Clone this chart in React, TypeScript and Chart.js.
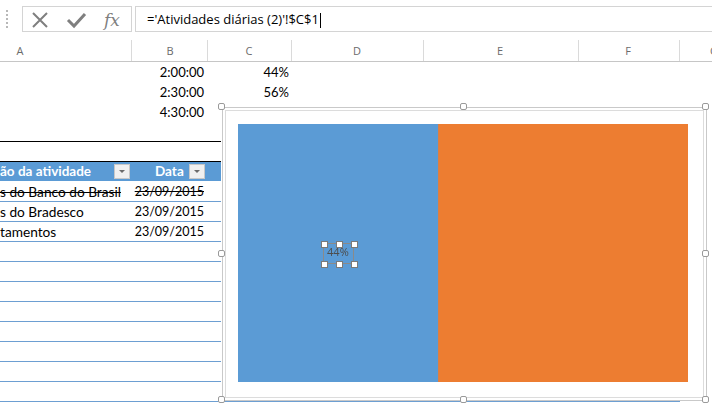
import React, { useEffect, useRef } from "react";
import { Chart, registerables } from "chart.js";

Chart.register(...registerables);

const categories: string[] = ["Atividades"];
const seriesNames: string[] = ["2:00:00", "2:30:00"];
const seriesValues: number[] = [44.4, 55.6];
const seriesColors: string[] = ["#5B9BD5", "#ED7D31"];
const labelledSeries: number[] = [0];

const cellTimes: string[] = ["2:00:00", "2:30:00", "4:30:00"];
const cellPercents: string[] = ["44%", "56%"];
const tableDesc: string[] = ["s do Banco do Brasil", "s do Bradesco", "tamentos"];
const tableDates: string[] = ["23/09/2015", "23/09/2015", "23/09/2015"];
const tableStrike: boolean[] = [true, false, false];
const columnLetters: { l: string; x: number }[] = [
  { l: "A", x: 20 },
  { l: "B", x: 170 },
  { l: "C", x: 249 },
  { l: "D", x: 357 },
  { l: "E", x: 500 },
  { l: "F", x: 628 },
  { l: "G", x: 714 },
];
const columnSeps: number[] = [131, 207, 291, 423, 578, 679];

const UI = "'Open Sans', 'DejaVu Sans', sans-serif";
const CELL = "Lato, 'Open Sans', sans-serif";

const labelPlugin = {
  id: "centerLabel",
  afterDatasetsDraw(chart: any) {
    const ctx = chart.ctx;
    labelledSeries.forEach((di) => {
      const meta = chart.getDatasetMeta(di);
      meta.data.forEach((bar: any, i: number) => {
        const v = chart.data.datasets[di].data[i];
        const cx = (bar.x + bar.base) / 2;
        const cy = bar.y;
        ctx.save();
        ctx.font = "11px 'Open Sans', sans-serif";
        ctx.fillStyle = "#4d4d4d";
        ctx.textAlign = "center";
        ctx.textBaseline = "middle";
        ctx.fillText(Math.round(v) + "%", cx, cy);
        const w = 30, h = 20;
        const x0 = Math.round(cx - w / 2) + 0.5;
        const y0 = Math.round(cy - h / 2) + 0.5;
        ctx.strokeStyle = "#8a8a8a";
        ctx.lineWidth = 1;
        ctx.strokeRect(x0, y0, w, h);
        const pts = [
          [x0, y0], [x0 + w / 2, y0], [x0 + w, y0],
          [x0, y0 + h], [x0 + w / 2, y0 + h], [x0 + w, y0 + h],
        ];
        pts.forEach(([px, py]) => {
          ctx.fillStyle = "#ffffff";
          ctx.fillRect(Math.round(px - 3) + 0.5, Math.round(py - 3) + 0.5, 6, 6);
          ctx.strokeStyle = "#7a7a7a";
          ctx.strokeRect(Math.round(px - 3) + 0.5, Math.round(py - 3) + 0.5, 6, 6);
        });
        ctx.restore();
      });
    });
  },
};

function ChartBox() {
  const ref = useRef<HTMLCanvasElement | null>(null);
  useEffect(() => {
    if (!ref.current) return;
    const chart = new Chart(ref.current, {
      type: "bar",
      data: {
        labels: categories,
        datasets: seriesValues.map((v, i) => ({
          label: seriesNames[i],
          data: [v],
          backgroundColor: seriesColors[i],
          borderWidth: 0,
          barPercentage: 1,
          categoryPercentage: 1,
        })),
      },
      options: {
        animation: false,
        responsive: false,
        maintainAspectRatio: false,
        indexAxis: "y",
        layout: { padding: { left: 12, right: 14, top: 13, bottom: 15 } },
        scales: {
          x: { stacked: true, display: false, min: 0, max: 100 },
          y: { stacked: true, display: false },
        },
        plugins: { legend: { display: false }, tooltip: { enabled: false } },
      } as any,
      plugins: [labelPlugin],
    });
    return () => chart.destroy();
  }, []);
  return <canvas ref={ref} width={476} height={286} style={{ display: "block", width: 476, height: 286 }} />;
}

const abs = (o: React.CSSProperties): React.CSSProperties => ({ position: "absolute", ...o });

function Handle({ x, y }: { x: number; y: number }) {
  return (
    <div
      style={abs({
        left: x - 4,
        top: y - 4,
        width: 7,
        height: 7,
        background: "#fff",
        border: "1px solid #9a9a9a",
        borderRadius: 2,
        boxSizing: "border-box",
      })}
    />
  );
}

export default function App() {
  const rowLines: number[] = [];
  for (let y = 201; y <= 381; y += 20) rowLines.push(y);
  return (
    <div
      style={{
        position: "fixed",
        left: 0,
        top: 0,
        width: 712,
        height: 405,
        overflow: "hidden",
        background: "#fff",
        fontFamily: UI,
      }}
    >
      {[10, 14, 18, 22, 26].map((y) => (
        <div key={y} style={abs({ left: 6, top: y, width: 2, height: 2, background: "#b8b8b8" })} />
      ))}
      <div style={abs({ left: 22, top: 6, width: 110, height: 26, border: "1px solid #d4d4d4", boxSizing: "border-box" })} />
      <svg style={abs({ left: 22, top: 6 })} width={110} height={26}>
        <path d="M11 7 L25 21 M25 7 L11 21" stroke="#7f7f7f" strokeWidth={2} />
        <path d="M46 14 L52 20 L63 8" stroke="#7f7f7f" strokeWidth={3} fill="none" />
        <text x={82} y={20} fontFamily="'DejaVu Serif', 'Liberation Serif', serif" fontStyle="italic" fontSize={17} fill="#7f7f7f">
          fx
        </text>
      </svg>
      <div style={abs({ left: 135, top: 6, width: 600, height: 26, border: "1px solid #d4d4d4", boxSizing: "border-box" })} />
      <div style={abs({ left: 147, top: 9, fontSize: 13, lineHeight: "20px", color: "#000", whiteSpace: "nowrap" })}>
        ='Atividades diárias (2)'!$C$1
        <span style={{ display: "inline-block", width: 1, height: 15, background: "#000", verticalAlign: "middle", marginLeft: 1 }} />
      </div>

      {columnLetters.map((c) => (
        <div
          key={c.l}
          style={abs({ left: c.x - 20, top: 42, width: 40, textAlign: "center", fontSize: 11, lineHeight: "18px", color: "#6b6b6b" })}
        >
          {c.l}
        </div>
      ))}
      {columnSeps.map((x) => (
        <div key={x} style={abs({ left: x, top: 40, width: 1, height: 21, background: "#dadada" })} />
      ))}
      <div style={abs({ left: 0, top: 61, width: 712, height: 1, background: "#c6c6c6" })} />

      {cellTimes.map((t, i) => (
        <div key={t} style={abs({ left: 131, top: 63 + i * 20, width: 73, textAlign: "right", fontFamily: CELL, fontSize: 13, lineHeight: "19px", color: "#000" })}>
          {t}
        </div>
      ))}
      {cellPercents.map((t, i) => (
        <div key={t} style={abs({ left: 207, top: 63 + i * 20, width: 82, textAlign: "right", fontFamily: CELL, fontSize: 13, lineHeight: "19px", color: "#000" })}>
          {t}
        </div>
      ))}

      <div style={abs({ left: 0, top: 141, width: 221, height: 1, background: "#000" })} />
      <div style={abs({ left: 0, top: 161, width: 221, height: 1, background: "#000" })} />
      <div style={abs({ left: 0, top: 162, width: 221, height: 19, background: "#5B9BD5" })} />
      <div style={abs({ left: 0, top: 162, fontFamily: CELL, fontWeight: 700, fontSize: 13.5, lineHeight: "19px", color: "#fff", whiteSpace: "nowrap" })}>
        ão da atividade
      </div>
      <div style={abs({ left: 155, top: 162, fontFamily: CELL, fontWeight: 700, fontSize: 13.5, lineHeight: "19px", color: "#fff" })}>
        Data
      </div>
      {[114, 189].map((x) => (
        <div key={x} style={abs({ left: x, top: 164, width: 16, height: 15, background: "#f0f0f0", border: "1px solid #c8c8c8", boxSizing: "border-box" })}>
          <svg width={14} height={13} style={{ display: "block" }}>
            <path d="M4 5 L10 5 L7 8 Z" fill="#6b6b6b" />
          </svg>
        </div>
      ))}
      {tableDesc.map((t, i) => (
        <React.Fragment key={t}>
          <div
            style={abs({
              left: 0,
              top: 182 + i * 20,
              fontFamily: CELL,
              fontSize: 13.7,
              lineHeight: "19px",
              color: "#000",
              whiteSpace: "nowrap",
              textDecoration: tableStrike[i] ? "line-through" : "none",
            })}
          >
            {t}
          </div>
          <div
            style={abs({
              left: 120,
              top: 182 + i * 20,
              width: 84,
              textAlign: "right",
              fontFamily: CELL,
              fontSize: 12.5,
              lineHeight: "19px",
              color: "#000",
              textDecoration: tableStrike[i] ? "line-through" : "none",
            })}
          >
            {tableDates[i]}
          </div>
        </React.Fragment>
      ))}
      {rowLines.map((y) => (
        <div key={y} style={abs({ left: 0, top: y, width: 221, height: 1, background: "#6d9fd2" })} />
      ))}
      <div style={abs({ left: 0, top: 401, width: 680, height: 1, background: "#6d9fd2" })} />

      <div style={abs({ left: 222, top: 107, width: 485, height: 294, border: "1px solid #c9c9c9", background: "#fff", boxSizing: "border-box" })} />
      <div style={abs({ left: 225, top: 110, width: 479, height: 288, border: "1px solid #dcdcdc", boxSizing: "border-box" })} />
      <div style={abs({ left: 226, top: 111 })}>
        <ChartBox />
      </div>
      {[
        [222, 107], [464, 107], [706, 107],
        [222, 254], [706, 254],
        [222, 400], [464, 400], [706, 400],
      ].map(([x, y]) => (
        <Handle key={x + "-" + y} x={x} y={y} />
      ))}
    </div>
  );
}
